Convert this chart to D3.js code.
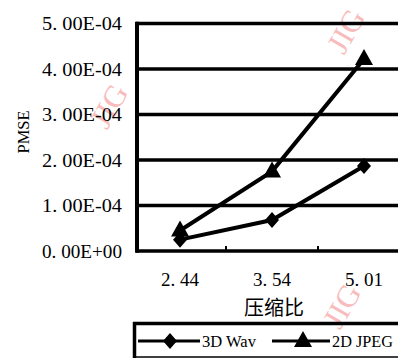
<!DOCTYPE html>
<html>
<head>
<meta charset="utf-8">
<script src="https://cdn.jsdelivr.net/npm/d3@7"></script>
<style>
  body { margin: 0; background: #fff; }
  svg { display: block; }
</style>
</head>
<body>
<div id="chart"></div>
<script>
// data
var categories = ["2. 44", "3. 54", "5. 01"];
var wav = [0.25e-4, 0.68e-4, 1.87e-4];
var jpeg = [0.45e-4, 1.75e-4, 4.22e-4];
var yTicks = [0, 1e-4, 2e-4, 3e-4, 4e-4, 5e-4];
var yTickLabels = ["0. 00E+00", "1. 00E-04", "2. 00E-04", "3. 00E-04", "4. 00E-04", "5. 00E-04"];
var seriesNames = ["3D Wav", "2D JPEG"];

var W = 398, H = 358;
var serif = "'Liberation Serif', 'DejaVu Serif', serif";

var svg = d3.select("#chart").append("svg")
    .attr("width", W)
    .attr("height", H);

var x = d3.scaleBand().domain(categories).range([134, 410]).padding(0);
var y = d3.scaleLinear().domain([0, 5e-4]).range([251, 23.5]);

// watermark
var marks = [[109, 106], [346, 31], [342, 306]];
svg.selectAll(".wm").data(marks).enter().append("text")
    .attr("transform", function(d){ return "translate(" + d[0] + "," + d[1] + ") rotate(-60)"; })
    .attr("text-anchor", "middle")
    .attr("dominant-baseline", "central")
    .attr("font-family", serif)
    .attr("font-size", 31)
    .attr("fill", "#f8bcbc")
    .text("JIG");

// gridlines
svg.selectAll(".grid").data(yTicks).enter().append("line")
    .attr("x1", 136).attr("x2", W)
    .attr("y1", function(d){ return y(d); })
    .attr("y2", function(d){ return y(d); })
    .attr("stroke", "#000")
    .attr("stroke-width", 3.5);

// left axis
svg.append("line")
    .attr("x1", 137).attr("x2", 137)
    .attr("y1", y(5e-4) - 1.75).attr("y2", y(0) + 1.75)
    .attr("stroke", "#000").attr("stroke-width", 4);

// x ticks between categories
svg.selectAll(".xt").data(categories.slice(1)).enter().append("line")
    .attr("x1", function(d){ return x(d); })
    .attr("x2", function(d){ return x(d); })
    .attr("y1", y(0)).attr("y2", y(0) - 5)
    .attr("stroke", "#000").attr("stroke-width", 2);

// y tick labels
svg.selectAll(".yl").data(yTicks).enter().append("text")
    .attr("x", 122)
    .attr("y", function(d){ return y(d); })
    .attr("text-anchor", "end")
    .attr("dominant-baseline", "central")
    .attr("font-family", serif)
    .attr("font-size", 19)
    .attr("textLength", 80)
    .attr("lengthAdjust", "spacingAndGlyphs")
    .text(function(d, i){ return yTickLabels[i]; });

// x tick labels
svg.selectAll(".xl").data(categories).enter().append("text")
    .attr("x", function(d){ return x(d) + x.bandwidth() / 2; })
    .attr("y", 279)
    .attr("text-anchor", "middle")
    .attr("dominant-baseline", "central")
    .attr("font-family", serif)
    .attr("font-size", 19)
    .text(function(d){ return d; });

// axis titles
svg.append("text")
    .attr("x", 274).attr("y", 306)
    .attr("text-anchor", "middle")
    .attr("dominant-baseline", "central")
    .attr("font-family", "'Noto Sans CJK SC', sans-serif")
    .attr("font-size", 20)
    .text("压缩比");

svg.append("text")
    .attr("transform", "translate(23,132) rotate(-90)")
    .attr("text-anchor", "middle")
    .attr("dominant-baseline", "central")
    .attr("font-family", serif)
    .attr("font-size", 17)
    .attr("textLength", 43)
    .attr("lengthAdjust", "spacingAndGlyphs")
    .text("PMSE");

// series
var cx = function(d, i){ return x(categories[i]) + x.bandwidth() / 2; };
var line = d3.line().x(cx).y(function(d){ return y(d); });

var diamond = "M0,-8L7,0L0,8L-7,0Z";
var triangle = "M0,-10L9,6L-9,6Z";

[[wav, diamond], [jpeg, triangle]].forEach(function(s){
  svg.append("path")
      .datum(s[0])
      .attr("d", line)
      .attr("fill", "none")
      .attr("stroke", "#000")
      .attr("stroke-width", 4);
  svg.selectAll(null).data(s[0]).enter().append("path")
      .attr("d", s[1])
      .attr("transform", function(d, i){ return "translate(" + cx(d, i) + "," + y(d) + ")"; })
      .attr("fill", "#000");
});

// legend
var lg = svg.append("g");
lg.append("line").attr("x1", 133).attr("x2", W).attr("y1", 323.5).attr("y2", 323.5)
    .attr("stroke", "#000").attr("stroke-width", 3.5);
lg.append("line").attr("x1", 134.5).attr("x2", 134.5).attr("y1", 322).attr("y2", H)
    .attr("stroke", "#000").attr("stroke-width", 3.5);
lg.append("line").attr("x1", 133).attr("x2", W).attr("y1", 357).attr("y2", 357)
    .attr("stroke", "#000").attr("stroke-width", 1.5);

var items = [
  {x1: 138, x2: 200, mx: 170, shape: diamond, tx: 202, len: 54},
  {x1: 272, x2: 330, mx: 303, shape: triangle, tx: 332, len: 61}
];
items.forEach(function(it, i){
  lg.append("line").attr("x1", it.x1).attr("x2", it.x2).attr("y1", 341).attr("y2", 341)
      .attr("stroke", "#000").attr("stroke-width", 3);
  lg.append("path").attr("d", it.shape)
      .attr("transform", "translate(" + it.mx + ",341)")
      .attr("fill", "#000");
  lg.append("text")
      .attr("x", it.tx).attr("y", 341)
      .attr("dominant-baseline", "central")
      .attr("font-family", serif)
      .attr("font-size", 16.5)
      .attr("textLength", it.len)
      .attr("lengthAdjust", "spacingAndGlyphs")
      .text(seriesNames[i]);
});
</script>
</body>
</html>
